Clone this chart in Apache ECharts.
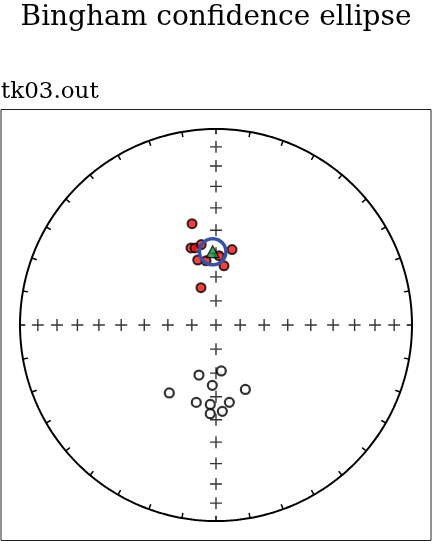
<!DOCTYPE html>
<html><head><meta charset="utf-8">
<script src="https://cdn.jsdelivr.net/npm/echarts@6/dist/echarts.min.js"></script>
<style>html,body{margin:0;padding:0;background:#fff}#c{width:432px;height:541px}</style>
</head><body><div id="c"></div>
<script>
// Directions (declination, inclination) in degrees
const downDec = [346.7, 342.0, 344.8, 349.6, 344.3, 12.0, 7.7, 338.1, 2.5, 351.2];
const downInc = [45.9, 56.0, 56.5, 55.7, 61.8, 57.7, 65.1, 73.3, 61.0, 62.9];
const upDec = [198.8, 173.4, 183.5, 214.5, 155.5, 194.3, 184.1, 170.2, 183.7, 175.8];
const upInc = [-68.0, -70.8, -64.8, -55.4, -60.4, -56.5, -56.6, -57.1, -52.6, -53.6];
// Bingham mean and confidence semi-axes (degrees)
const meanDec = [357.4];
const meanInc = [59.3];
const ellEta = [5.6];
const ellZeta = [5.3];
// Net grid
const crossDecs = [0, 90, 180, 270];
const crossIncs = [10, 20, 30, 40, 50, 60, 70, 80, 90];
const tickDecs = Array.from({length: 36}, (_, i) => i * 10);
const titleText = 'Bingham confidence ellipse';
const subText = 'tk03.out';

const rad = Math.PI / 180;
function dir2cart(d, i) {
  return [Math.cos(d*rad)*Math.cos(i*rad), Math.sin(d*rad)*Math.cos(i*rad), Math.sin(i*rad)];
}
function dimapCart(X) {
  const h = Math.sqrt(X[0]*X[0] + X[1]*X[1]);
  if (h < 1e-12) return [0, 0];
  const R = Math.sqrt(1 - Math.abs(X[2])) / h;
  return [X[1]*R, X[0]*R];
}
function dimap(d, i) { return dimapCart(dir2cart(d, i)); }

const perim = [];
for (let d = 0; d <= 360; d++) perim.push(dimap(d, 0));
const ticks = tickDecs.map(d => ({coords: [dimap(d, 0), dimap(d, 3)]}));
const crosses = [];
crossDecs.forEach(d => crossIncs.forEach(i => {
  if (!(i === 90 && d !== 0)) crosses.push(dimap(d, i));
}));
const downPts = downDec.map((d, k) => dimap(d, downInc[k]));
const upPts = upDec.map((d, k) => dimap(d, upInc[k]));
const meanPts = meanDec.map((d, k) => dimap(d, meanInc[k]));

// Ellipse around mean
const m = dir2cart(meanDec[0], meanInc[0]);
const e = dir2cart(meanDec[0], meanInc[0] - 90);
const z = [m[1]*e[2]-m[2]*e[1], m[2]*e[0]-m[0]*e[2], m[0]*e[1]-m[1]*e[0]];
const ell = [];
for (let t = 0; t <= 360; t += 5) {
  const a = Math.tan(ellEta[0]*rad) * Math.cos(t*rad);
  const b = Math.tan(ellZeta[0]*rad) * Math.sin(t*rad);
  const v = [0,1,2].map(k => m[k] + a*e[k] + b*z[k]);
  const n = Math.hypot(v[0], v[1], v[2]);
  ell.push(dimapCart(v.map(c => c / n)));
}

const plusPath = 'path://M0,5.3L12,5.3L12,6.7L0,6.7Z M5.3,0L6.7,0L6.7,12L5.3,12Z';
const chart = echarts.init(document.getElementById('c'), null, {renderer: 'canvas'});
chart.setOption({
  animation: false,
  title: [
    {text: titleText, left: 'center', top: 4, padding: 0, textStyle: {fontFamily: 'DejaVu Serif', fontWeight: 'normal', fontSize: 28, color: '#000'}},
    {text: subText, left: 1, top: 81, padding: 0, textStyle: {fontFamily: 'DejaVu Serif', fontWeight: 'normal', fontSize: 23, color: '#000'}}
  ],
  grid: {left: 1, top: 109.5, width: 430, height: 431, show: true, borderColor: '#222', borderWidth: 1, backgroundColor: '#fff'},
  xAxis: {type: 'value', min: -1.097, max: 1.097, show: false},
  yAxis: {type: 'value', min: -1.0995, max: 1.0995, show: false},
  series: [
    {type: 'line', data: perim, showSymbol: false, lineStyle: {color: '#000', width: 2}, z: 2},
    {type: 'lines', coordinateSystem: 'cartesian2d', data: ticks, lineStyle: {color: '#000', width: 1.5, opacity: 1}, z: 2},
    {type: 'scatter', data: crosses, symbol: plusPath, symbolSize: 12, itemStyle: {color: '#000'}, z: 3},
    {type: 'scatter', data: downPts, symbol: 'circle', symbolSize: 9, itemStyle: {color: '#f01010', borderColor: '#000', borderWidth: 2}, z: 4},
    {type: 'scatter', data: upPts, symbol: 'circle', symbolSize: 9, itemStyle: {color: '#fff', borderColor: '#000', borderWidth: 2.2}, z: 4},
    {type: 'scatter', data: meanPts, symbol: 'triangle', symbolSize: [13, 12], itemStyle: {color: '#168a36', borderColor: '#000', borderWidth: 1.2}, z: 5},
    {type: 'line', data: ell, showSymbol: false, lineStyle: {color: '#3651a8', width: 3.5}, z: 6}
  ]
});
</script></body></html>
